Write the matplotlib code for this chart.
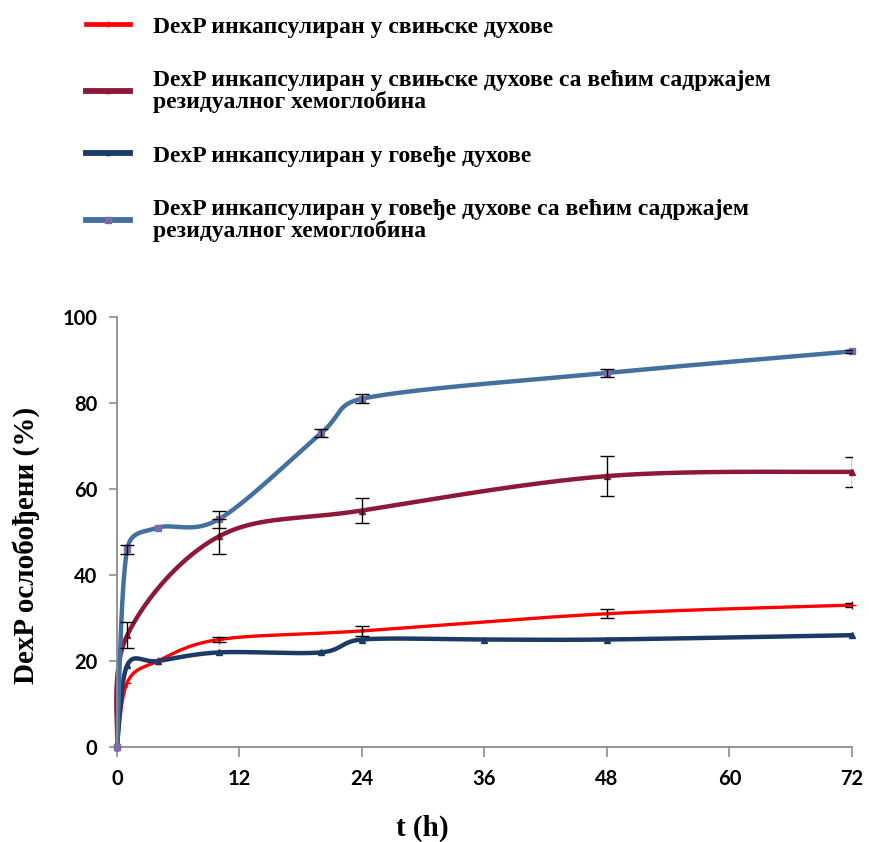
import numpy as np
import matplotlib
matplotlib.use("Agg")
import matplotlib.pyplot as plt
from matplotlib.lines import Line2D

# ---------------------------------------------------------------------------
#  Podaci (očitani sa grafika)
# ---------------------------------------------------------------------------
t_svinjske = [0, 1, 4, 10, 24, 48, 72]
y_svinjske = [0, 15, 20, 25, 27, 31, 33]
e_svinjske = [0, 0, 0, 0.5, 1.2, 1, 0.5]

t_svinjske_hb = [0, 1, 10, 24, 48, 72]
y_svinjske_hb = [0, 26, 49, 55, 63, 64]
e_svinjske_hb = [0, 3, 4, 3, 4.6, 3.5]

t_govedje = [0, 1, 4, 10, 20, 24, 36, 48, 72]
y_govedje = [0, 19, 20, 22, 22, 25, 25, 25, 26]
e_govedje = [0, 0, 0, 0, 0, 0, 0, 0, 0]

t_govedje_hb = [0, 1, 4, 10, 20, 24, 48, 72]
y_govedje_hb = [0, 46, 51, 53, 73, 81, 87, 92]
e_govedje_hb = [0, 1, 0, 2, 1, 1, 1, 0.3]

nazivi = [
    "DexP инкапсулиран у свињске духове",
    "DexP инкапсулиран у свињске духове са већим садржајем\nрезидуалног хемоглобина",
    "DexP инкапсулиран у говеђе духове",
    "DexP инкапсулиран у говеђе духове са већим садржајем\nрезидуалног хемоглобина",
]

x_ticks = [0, 12, 24, 36, 48, 60, 72]
y_ticks = [0, 20, 40, 60, 80, 100]

SERIF = ["Liberation Serif", "DejaVu Serif"]
SANS = ["Lato", "DejaVu Sans"]

# odnos piksela po jedinici (za dužine segmenata pri zaglađivanju)
SKALA = np.array([10.2, 4.3])


def excel_smooth(x, y, n=60):
    """Glatka kriva (Bezier 1/6), kontrolne tačke ograničene na pola segmenta."""
    p = np.column_stack([x, y]).astype(float)
    ext = np.vstack([p[0], p, p[-1]])
    u = np.linspace(0, 1, n)[:, None]

    def ogranici(v, seg):
        dv = np.linalg.norm(v * SKALA)
        ds = np.linalg.norm(seg * SKALA) / 2
        return v * (ds / dv) if dv > ds and dv > 0 else v

    out = []
    for i in range(len(p) - 1):
        k = i + 1
        p0, p3 = ext[k], ext[k + 1]
        seg = p3 - p0
        c1 = p0 + ogranici((ext[k + 1] - ext[k - 1]) / 6, seg)
        c2 = p3 - ogranici((ext[k + 2] - ext[k]) / 6, seg)
        b = ((1 - u) ** 3) * p0 + 3 * ((1 - u) ** 2) * u * c1 \
            + 3 * (1 - u) * u ** 2 * c2 + u ** 3 * p3
        out.append(b)
    out = np.vstack(out)
    return out[:, 0], out[:, 1]


serije = [
    (t_svinjske, y_svinjske, e_svinjske, "#FF0000", 2.4, "+", 6, "#FF0000"),
    (t_svinjske_hb, y_svinjske_hb, e_svinjske_hb, "#8E1839", 3.2, "^", 4, "#8E1839"),
    (t_govedje, y_govedje, e_govedje, "#1B3A66", 3.2, "^", 4, "#1B3A66"),
    (t_govedje_hb, y_govedje_hb, e_govedje_hb, "#44709F", 3.2, "s", 5, "#7D6AA8"),
]

fig = plt.figure(figsize=(8.69, 8.42), dpi=100)
ax = fig.add_axes([117 / 869, 1 - 747 / 842, (852 - 117) / 869, (747 - 317) / 842])

handles = []
for (t, y, e, boja, lw, mk, ms, mboja), naziv in zip(serije, nazivi):
    xs, ys = excel_smooth(t, y)
    ax.plot(xs, ys, color=boja, lw=lw, solid_capstyle="round", zorder=2,
            clip_on=False)
    ax.plot(t, y, ls="none", marker=mk, ms=ms, color=mboja, mec=mboja,
            zorder=3, clip_on=False)
    handles.append(Line2D([], [], color=boja, lw=lw + 1.0, marker=mk,
                          ms=ms - 1, mfc=mboja, mec=mboja))

for t, y, e, *_ in serije:
    ea = np.array(e)
    m = ea > 0
    ax.errorbar(np.array(t)[m], np.array(y)[m], yerr=ea[m], fmt="none",
                ecolor="black", elinewidth=1, capsize=5, capthick=1, zorder=4)

ax.set_xlim(0, 72)
ax.set_ylim(0, 100)
ax.set_xticks(x_ticks)
ax.set_yticks(y_ticks)
ax.set_xticklabels([str(v) for v in x_ticks], family=SANS, fontweight="bold",
                   fontsize=14.5)
ax.set_yticklabels([str(v) for v in y_ticks], family=SANS, fontweight="bold",
                   fontsize=14.5)
ax.tick_params(axis="x", direction="out", length=7, width=1.2, color="#8C8C8C",
               pad=9)
ax.tick_params(axis="y", direction="out", length=6, width=1.2, color="#8C8C8C",
               pad=8)
for s in ["top", "right"]:
    ax.spines[s].set_visible(False)
for s in ["left", "bottom"]:
    ax.spines[s].set_color("#8C8C8C")
    ax.spines[s].set_linewidth(1.3)

fig.text(422 / 869, 1 - 828 / 842, "t (h)", family=SERIF, fontweight="bold",
         fontsize=21, ha="center", va="center")
fig.text(26 / 869, 1 - 545 / 842, "DexP ослобођени (%)", family=SERIF,
         fontweight="bold", fontsize=21, ha="center", va="center", rotation=90)

leg = fig.legend(handles, nazivi, loc="upper left",
                 bbox_to_anchor=(86 / 869, 1 - 16 / 842), frameon=False,
                 prop={"family": SERIF, "weight": "bold", "size": 17},
                 handlelength=1.85, handletextpad=1.0, labelspacing=1.37,
                 borderaxespad=0, borderpad=0)
for txt in leg.get_texts():
    txt.set_linespacing(1.0)

fig.savefig("out.png", dpi=100, facecolor="white")
